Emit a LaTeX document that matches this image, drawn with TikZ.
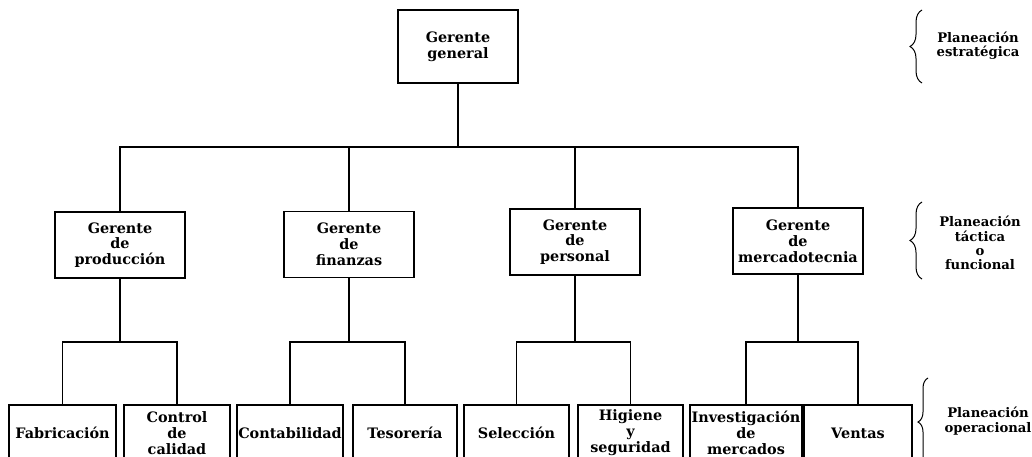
\documentclass[tikz,border=0pt]{standalone}
\usepackage{fontspec}
\setmainfont{DejaVu Serif}
\usetikzlibrary{decorations.pathreplacing}

\begin{document}
\begin{tikzpicture}[x=1pt, y=-1pt,
  txt/.style={font={\bfseries\fontsize{14.4}{15.8}\selectfont}, align=center, inner sep=0pt},
  box/.style={txt, draw, line width=1.7pt},
  midbox/.style={box, minimum width=130, minimum height=66},
  leaf/.style={box, anchor=north, minimum height=56},
  link/.style={line width=1.4pt},
  lvlbrace/.style={line width=1pt, decorate, decoration={brace, amplitude=12pt}},
  lvltext/.style={font={\bfseries\fontsize{13.2}{14.2}\selectfont}, align=center, inner sep=0pt}]

\useasboundingbox (0,0) rectangle (1032,456);
\clip (0,0) rectangle (1032,456);

% general manager
\node[box, minimum width=120, minimum height=73] (gg) at (458,46.5) {Gerente\\general};

% functional managers
\node[midbox] (gp)   at (120,245)   {Gerente\\de\\producción};
\node[midbox] (gf)   at (349,244.5) {Gerente\\de\\finanzas};
\node[midbox] (gper) at (575,242)   {Gerente\\de\\personal};
\node[midbox] (gm)   at (798,241)   {Gerente\\de\\mercadotecnia};

% operational units
\node[leaf, minimum width=107] (fab) at (62.5,404) {Fabricación};
\node[leaf, minimum width=106] (cal) at (177,404)  {Control\\de\\calidad};
\node[leaf, minimum width=106] (con) at (290,404)  {Contabilidad};
\node[leaf, minimum width=104] (tes) at (405,404)  {Tesorería};
\node[leaf, minimum width=105] (sel) at (516.5,404) {Selección};
\node[leaf, minimum width=105] (hig) at (630.5,404) {Higiene\\y\\seguridad};
\node[leaf, minimum width=112] (inv) at (746,404)  {Investigación\\de\\mercados};
\node[leaf, minimum width=108] (ven) at (858,404)  {Ventas};

% junction levels
\coordinate (top) at (0,147);
\coordinate (low) at (0,342);

% connectors: general manager to functional managers
\draw[link] (gg.south) -- (gg.south |- top);
\foreach \c in {gp,gf,gper,gm}
  \draw[link] (\c.north) |- (gg.south |- top);

% connectors: functional managers to operational units
\foreach \p/\a/\b in {gp/fab/cal, gf/con/tes, gper/sel/hig, gm/inv/ven} {
  \draw[link] (\p.south) -- (\p.south |- low);
  \draw[link] (\a.north) |- (\p.south |- low);
  \draw[link] (\b.north) |- (\p.south |- low);
}

% planning levels
\draw[lvlbrace] (922,83) -- (922,10);
\node[lvltext] (lv1) at (978,46) {Planeación\\estratégica};
\draw[lvlbrace] (922,279) -- (922,202);
\node[lvltext] (lv2) at (980,243) {Planeación\\táctica\\o\\funcional};
\draw[lvlbrace, decoration={amplitude=10pt}] (928,466) -- (928,378);
\node[lvltext] (lv3) at (988,421) {Planeación\\operacional};
\end{tikzpicture}
\end{document}
